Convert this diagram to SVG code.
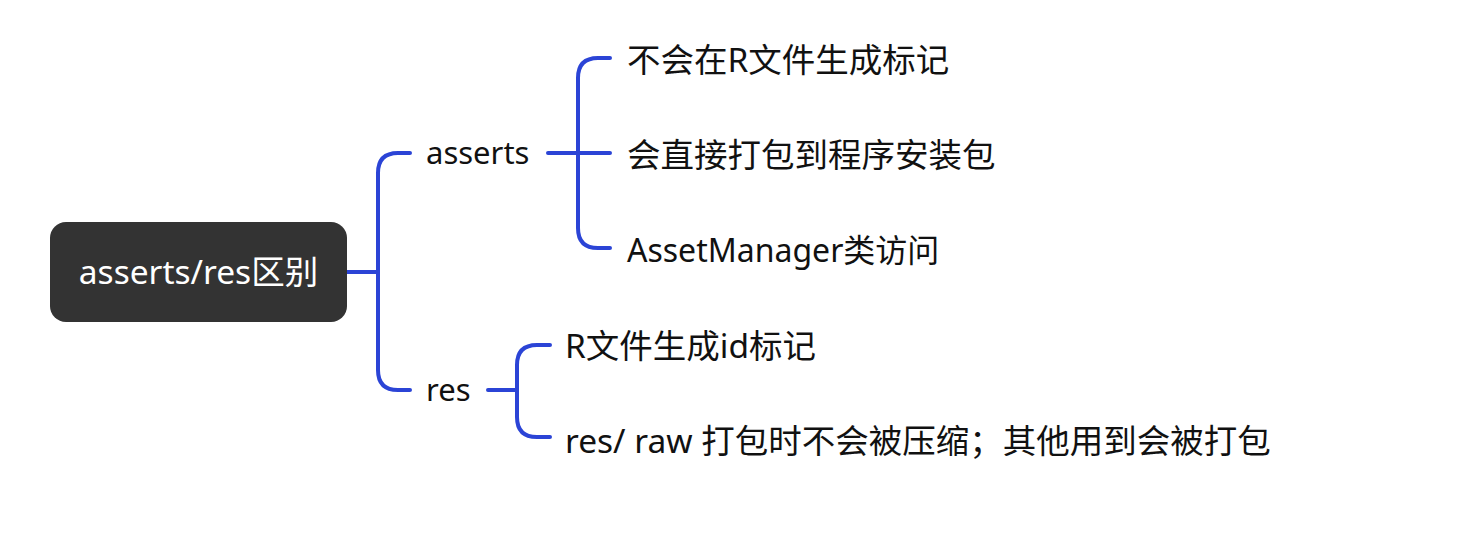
<svg xmlns="http://www.w3.org/2000/svg" width="1459" height="546" viewBox="0 0 1459 546">
<style>
.t{font-family:"Noto Sans","Noto Sans CJK SC",sans-serif;font-size:31px;fill:#111}
.l{font-size:33.5px}
.c{fill:none;stroke:#2b44d6;stroke-width:4;stroke-linecap:round}
</style>
<rect width="1459" height="546" fill="#fff"/>
<g id="connectors">
<path class="c" d="M347 272H378M398 153H410M378 173V370M378 173Q378 153 398 153M378 370Q378 390 398 390H410"/>
<path class="c" d="M548 153H610M598 58H610M598 248H610M578 78V228M578 78Q578 58 598 58M578 228Q578 248 598 248"/>
<path class="c" d="M488 390H517M537 345H550M537 437H550M517 365V417M517 365Q517 345 537 345M517 417Q517 437 537 437"/>
</g>
<g id="root"><rect x="50" y="222" width="297" height="100" rx="16" fill="#333"/>
<text x="198.5" y="284" text-anchor="middle" class="t" style="fill:#fff;font-size:33.5px">asserts/res区别</text></g>
<g id="asserts"><text x="426" y="164" class="t">asserts</text></g>
<g id="a1"><text x="627" y="72" class="t l">不会在R文件生成标记</text></g>
<g id="a2"><text x="627" y="167" class="t l">会直接打包到程序安装包</text></g>
<g id="a3"><text x="627" y="262" class="t" style="font-size:32px">AssetManager类访问</text></g>
<g id="res"><text x="426" y="401" class="t">res</text></g>
<g id="r1"><text x="565" y="358" class="t l">R文件生成id标记</text></g>
<g id="r2"><text x="565" y="453" class="t l">res/ raw 打包时不会被压缩；其他用到会被打包</text></g>
</svg>
